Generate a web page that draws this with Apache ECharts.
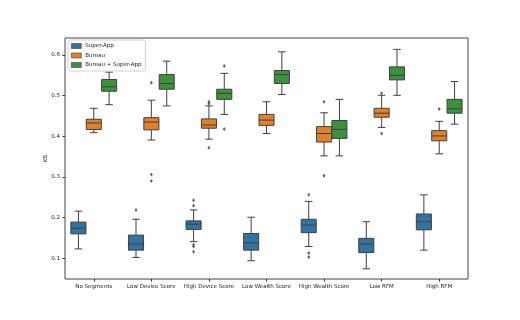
<!DOCTYPE html>
<html>
<head>
<meta charset="utf-8">
<script src="https://cdn.jsdelivr.net/npm/echarts@6/dist/echarts.min.js"></script>
<style>
  html, body { margin: 0; padding: 0; background: #fff; }
  #chart { width: 520px; height: 320px; }
</style>
</head>
<body>
<div id="chart"></div>
<script>
// categories and hue names
const categories = ['No Segments', 'Low Device Score', 'High Device Score', 'Low Wealth Score', 'High Wealth Score', 'Low RFM', 'High RFM']
const hues = ['Super-App', 'Bureau', 'Bureau + Super-App']
const colors = ['#3274a1', '#e1812c', '#3a923a']

// box stats per category: [lower whisker, q1, median, q3, upper whisker]
const superApp = [
    [0.123, 0.160, 0.174, 0.189, 0.216],
    [0.102, 0.120, 0.135, 0.157, 0.196],
    [0.141, 0.171, 0.184, 0.192, 0.219],
    [0.094, 0.120, 0.138, 0.161, 0.201],
    [0.129, 0.163, 0.182, 0.196, 0.240],
    [0.074, 0.114, 0.135, 0.149, 0.190],
    [0.120, 0.170, 0.190, 0.209, 0.256]
]
const bureau = [
    [0.409, 0.417, 0.433, 0.442, 0.469],
    [0.391, 0.416, 0.435, 0.446, 0.489],
    [0.393, 0.420, 0.428, 0.443, 0.475],
    [0.407, 0.427, 0.440, 0.454, 0.485],
    [0.352, 0.386, 0.407, 0.424, 0.458],
    [0.422, 0.447, 0.457, 0.469, 0.501],
    [0.357, 0.389, 0.401, 0.414, 0.437]
]
const bureauSuperApp = [
    [0.478, 0.511, 0.522, 0.540, 0.558],
    [0.475, 0.516, 0.530, 0.552, 0.585],
    [0.454, 0.491, 0.506, 0.516, 0.555],
    [0.503, 0.530, 0.552, 0.562, 0.608],
    [0.352, 0.395, 0.417, 0.439, 0.491],
    [0.501, 0.539, 0.550, 0.571, 0.614],
    [0.430, 0.457, 0.468, 0.491, 0.535]
]

// outliers: [category index, value]
const superAppOut = [[1, 0.219], [2, 0.243], [2, 0.229], [2, 0.133], [2, 0.129], [2, 0.116], [4, 0.256], [4, 0.113], [4, 0.103]]
const bureauOut = [[1, 0.532], [1, 0.306], [1, 0.290], [2, 0.485], [2, 0.480], [2, 0.372], [4, 0.485], [4, 0.303], [5, 0.506], [5, 0.407], [6, 0.467]]
const bureauSuperAppOut = [[2, 0.573], [2, 0.418]]

const stats = [superApp, bureau, bureauSuperApp]
const outs = [superAppOut, bureauOut, bureauSuperAppOut]

const hueWidth = 0.8 / 3
const boxWidth = hueWidth * 0.98
const edge = '#3f3f3f'

function renderBox(params, api) {
    const x = api.value(0)
    const lo = api.coord([x, api.value(1)])
    const q1 = api.coord([x, api.value(2)])
    const med = api.coord([x, api.value(3)])
    const q3 = api.coord([x, api.value(4)])
    const hi = api.coord([x, api.value(5)])
    const w = api.size([boxWidth, 0])[0]
    const cap = w / 2
    const cx = lo[0]
    const ls = {stroke: edge, lineWidth: 1}
    return {
        type: 'group',
        children: [
            {type: 'line', shape: {x1: cx, y1: lo[1], x2: cx, y2: q1[1]}, style: ls},
            {type: 'line', shape: {x1: cx, y1: q3[1], x2: cx, y2: hi[1]}, style: ls},
            {type: 'line', shape: {x1: cx - cap / 2, y1: lo[1], x2: cx + cap / 2, y2: lo[1]}, style: ls},
            {type: 'line', shape: {x1: cx - cap / 2, y1: hi[1], x2: cx + cap / 2, y2: hi[1]}, style: ls},
            {type: 'rect', shape: {x: cx - w / 2, y: q3[1], width: w, height: q1[1] - q3[1]},
                style: {fill: api.visual('color'), stroke: edge, lineWidth: 1}},
            {type: 'line', shape: {x1: cx - w / 2, y1: med[1], x2: cx + w / 2, y2: med[1]}, style: ls}
        ]
    }
}

const series = []
hues.forEach((name, h) => {
    const off = (h - 1) * hueWidth
    series.push({
        name: name,
        type: 'custom',
        xAxisIndex: 1,
        renderItem: renderBox,
        itemStyle: {color: colors[h], borderColor: edge, borderWidth: 1},
        encode: {x: 0, y: [1, 2, 3, 4, 5]},
        data: stats[h].map((s, i) => [i + off].concat(s)),
        z: 2
    })
    series.push({
        type: 'scatter',
        xAxisIndex: 1,
        symbol: 'diamond',
        symbolSize: [3, 4],
        itemStyle: {color: edge},
        data: outs[h].map(p => [p[0] + off, p[1]]),
        z: 3
    })
})

const chart = echarts.init(document.getElementById('chart'))
chart.setOption({
    animation: false,
    textStyle: {fontFamily: 'DejaVu Sans'},
    grid: {left: 65, right: 52, top: 38, bottom: 41, show: true, borderColor: '#444', borderWidth: 1, backgroundColor: 'transparent'},
    legend: {
        data: hues,
        orient: 'vertical',
        left: 68,
        top: 40,
        itemWidth: 10,
        itemHeight: 5,
        itemGap: 3.5,
        padding: [3, 4, 3, 3],
        icon: 'rect',
        backgroundColor: '#fff',
        borderColor: '#d0d0d0',
        borderWidth: 1,
        borderRadius: 2,
        textStyle: {fontSize: 5.5, color: '#222', padding: [0, 0, 0, -1]},
        itemStyle: {borderColor: edge, borderWidth: 0.6}
    },
    xAxis: [
        {
            type: 'category',
            data: categories,
            boundaryGap: true,
            axisLine: {show: false},
            axisTick: {show: true, alignWithLabel: true, length: 2.5, lineStyle: {color: '#333'}},
            axisLabel: {fontSize: 5.5, color: '#222', margin: 5, interval: 0},
            splitLine: {show: false}
        },
        {
            type: 'value',
            min: -0.5,
            max: 6.5,
            show: false,
            splitLine: {show: false}
        }
    ],
    yAxis: {
        type: 'value',
        min: 0.049,
        max: 0.642,
        name: 'KS',
        nameLocation: 'middle',
        nameGap: 16,
        nameRotate: 90,
        nameMoveOverlap: false,
        nameTextStyle: {fontSize: 5.5, color: '#222'},
        axisLine: {show: false, onZero: false},
        axisTick: {show: true, length: 2.5, lineStyle: {color: '#333'}},
        axisLabel: {fontSize: 5.5, color: '#222', margin: 5, showMinLabel: false, showMaxLabel: false,
            formatter: v => v.toFixed(1)},
        splitLine: {show: false}
    },
    series: series
})
</script>
</body>
</html>
